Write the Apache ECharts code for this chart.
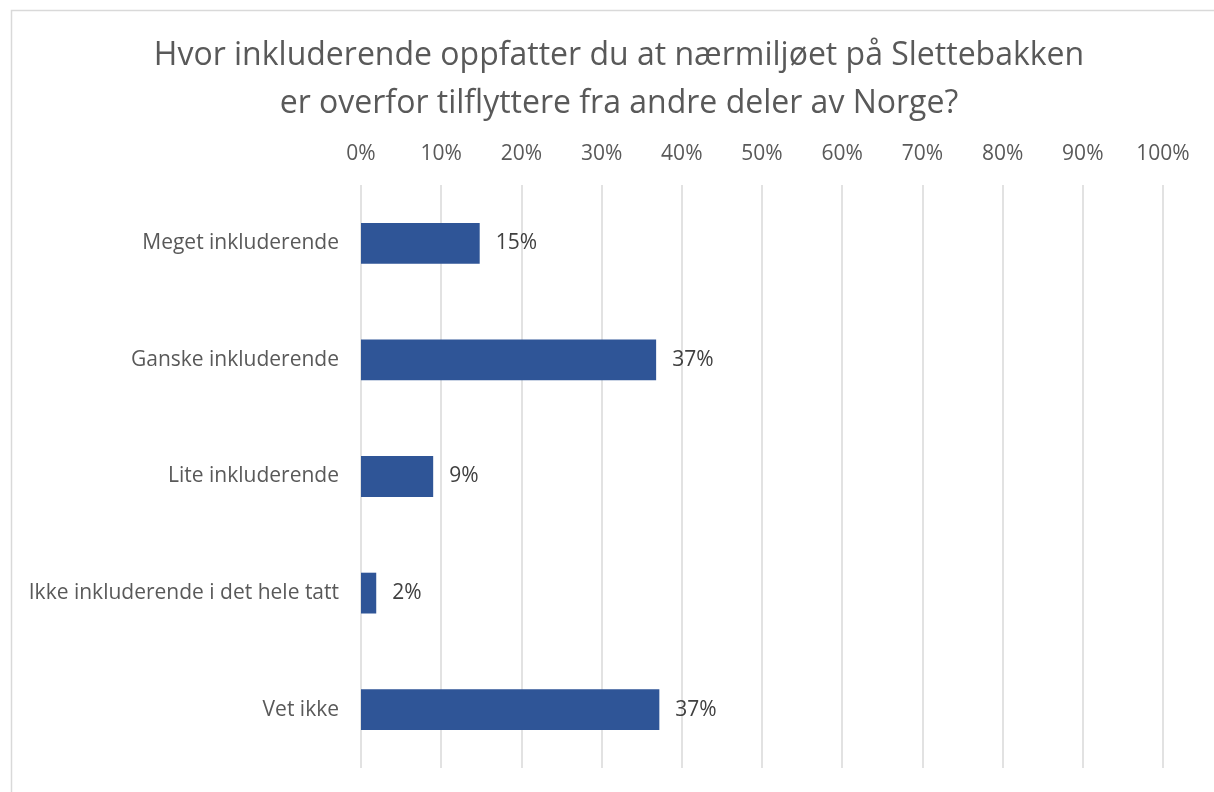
<!DOCTYPE html>
<html>
<head>
<meta charset="utf-8">
<script src="https://cdn.jsdelivr.net/npm/echarts@6/dist/echarts.min.js"></script>
<style>
  html, body { margin: 0; padding: 0; background: #fff; }
  #chart { width: 1214px; height: 792px; }
</style>
</head>
<body>
<div id="chart"></div>
<script>
var categories = ['Meget inkluderende', 'Ganske inkluderende', 'Lite inkluderende', 'Ikke inkluderende i det hele tatt', 'Vet ikke'];
var values = [14.8, 36.8, 9.0, 1.9, 37.2];
var axisTicks = [0, 10, 20, 30, 40, 50, 60, 70, 80, 90, 100];

var myChart = echarts.init(document.getElementById('chart'));
var font = 'Open Sans, sans-serif';
var option = {
    backgroundColor: '#fff',
    animation: false,
    graphic: [{
        type: 'rect',
        left: 9, top: 8,
        shape: { width: 1215, height: 800 },
        style: { fill: 'none', stroke: '#d9d9d9', lineWidth: 1.5 }
    }],
    title: {
        text: 'Hvor inkluderende oppfatter du at nærmiljøet på Slettebakken\ner overfor tilflyttere fra andre deler av Norge?',
        left: 614, top: 27, textAlign: 'center',
        textStyle: { fontFamily: font, fontSize: 32, fontWeight: 'normal', color: '#595959', lineHeight: 48 }
    },
    grid: { left: 361, right: 51, top: 185, bottom: 24 },
    xAxis: {
        type: 'value',
        position: 'top',
        min: axisTicks[0], max: axisTicks[axisTicks.length - 1], interval: 10,
        axisLine: { show: false },
        axisTick: { show: false },
        splitLine: { lineStyle: { color: '#d9d9d9', width: 1.5 } },
        axisLabel: { formatter: '{value}%', margin: 20, fontFamily: font, fontSize: 21, color: '#595959' }
    },
    yAxis: {
        type: 'category',
        data: categories,
        inverse: true,
        axisLine: { show: false },
        axisTick: { show: false },
        axisLabel: { margin: 22, fontFamily: font, fontSize: 21, color: '#595959' }
    },
    series: [{
        type: 'bar',
        data: values,
        barWidth: '35%',
        itemStyle: { color: '#2F5597' },
        label: {
            show: true, position: 'right', distance: 16,
            formatter: function (p) { return Math.round(p.value) + '%'; },
            fontFamily: font, fontSize: 21, color: '#404040'
        }
    }]
};
myChart.setOption(option);
</script>
</body>
</html>
